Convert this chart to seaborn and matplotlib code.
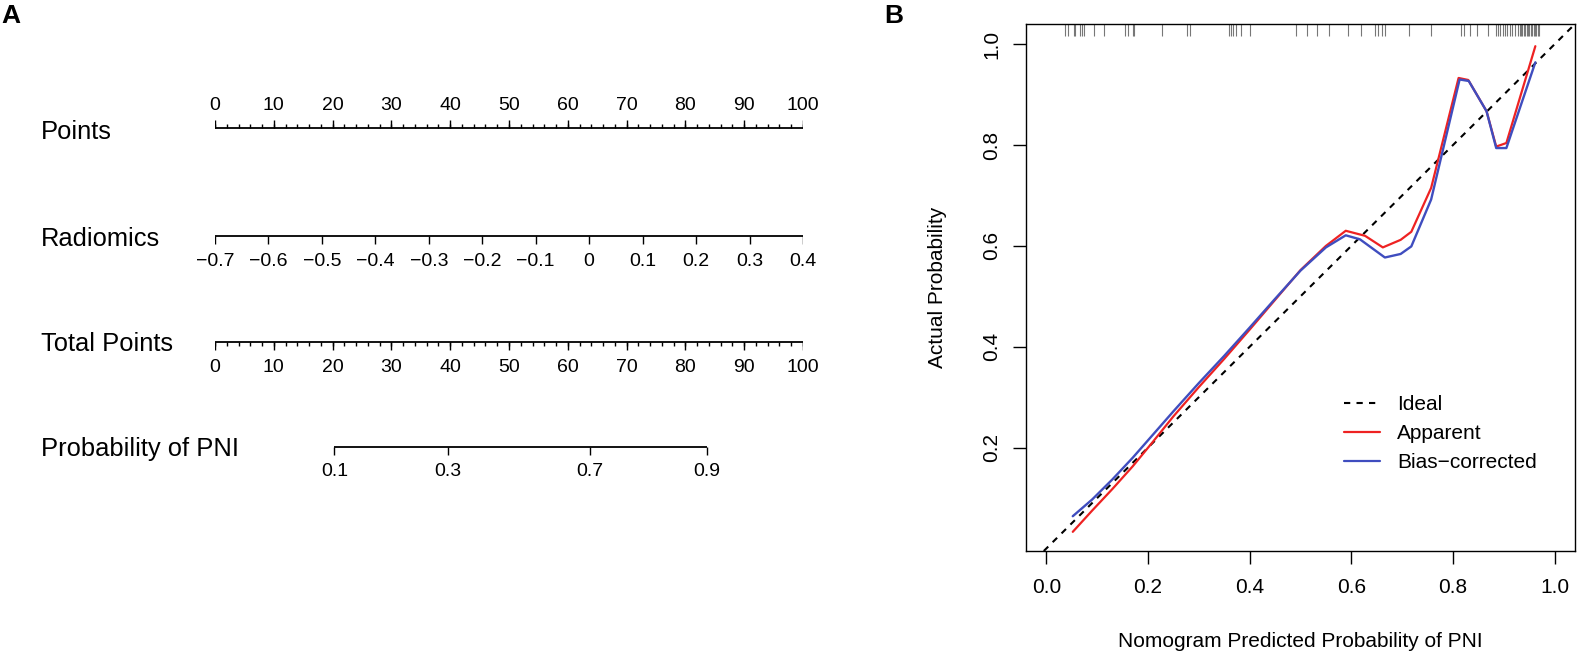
import numpy as np
import pandas as pd
import matplotlib
matplotlib.use('Agg')
import matplotlib.pyplot as plt
from matplotlib.lines import Line2D
import seaborn as sns

# ---------------- panel A: nomogram scales ----------------
points_ticks = [0, 10, 20, 30, 40, 50, 60, 70, 80, 90, 100]
points_minor = list(range(0, 101, 2))
radiomics_ticks = [-0.7, -0.6, -0.5, -0.4, -0.3, -0.2, -0.1, 0.0, 0.1, 0.2, 0.3, 0.4]
radiomics_labels = ['\u22120.7', '\u22120.6', '\u22120.5', '\u22120.4', '\u22120.3', '\u22120.2',
                    '\u22120.1', '0', '0.1', '0.2', '0.3', '0.4']
radiomics_range = [-0.7, 0.4]          # spans 0..100 points
total_ticks = [0, 10, 20, 30, 40, 50, 60, 70, 80, 90, 100]
total_minor = list(range(0, 101, 2))
prob_ticks = ['0.1', '0.3', '0.7', '0.9']
prob_points = [20.3, 39.6, 63.8, 83.6]  # total points at each probability

# ---------------- panel B: calibration curve ----------------
apparent_x = [0.052, 0.090, 0.130, 0.170, 0.210, 0.250, 0.300, 0.350, 0.400, 0.450, 0.500,
              0.550, 0.589, 0.627, 0.662, 0.697, 0.718, 0.757, 0.811, 0.830, 0.866, 0.885,
              0.905, 0.962]
apparent_y = [0.033, 0.075, 0.118, 0.163, 0.212, 0.262, 0.320, 0.376, 0.434, 0.493, 0.552,
              0.600, 0.630, 0.620, 0.597, 0.612, 0.628, 0.715, 0.933, 0.929, 0.867, 0.797,
              0.804, 0.996]
corrected_x = [0.052, 0.090, 0.130, 0.170, 0.210, 0.250, 0.300, 0.350, 0.400, 0.450, 0.500,
               0.550, 0.589, 0.617, 0.666, 0.697, 0.718, 0.757, 0.813, 0.831, 0.866, 0.885,
               0.905, 0.962]
corrected_y = [0.064, 0.097, 0.137, 0.180, 0.226, 0.272, 0.328, 0.382, 0.438, 0.495, 0.551,
               0.597, 0.621, 0.613, 0.577, 0.584, 0.599, 0.692, 0.930, 0.927, 0.867, 0.794,
               0.794, 0.964]
rug_x = [0.037, 0.042, 0.055, 0.057, 0.067, 0.070, 0.074, 0.093, 0.114, 0.154, 0.160, 0.170,
         0.172, 0.228, 0.277, 0.282, 0.359, 0.363, 0.368, 0.374, 0.383, 0.401, 0.492, 0.512,
         0.533, 0.556, 0.594, 0.620, 0.647, 0.652, 0.661, 0.666, 0.713, 0.757, 0.815, 0.821,
         0.834, 0.847, 0.869, 0.884, 0.889, 0.893, 0.898, 0.903, 0.907, 0.912, 0.917, 0.922,
         0.928, 0.931, 0.934, 0.936, 0.939, 0.942, 0.945, 0.948, 0.950, 0.953, 0.956, 0.959,
         0.962, 0.964, 0.967, 0.970]

RED = '#EE2222'
BLUE = '#3F4DBF'

sns.set_style('white', {'axes.edgecolor': 'black', 'text.color': 'black',
                        'xtick.color': 'black', 'ytick.color': 'black',
                        'axes.labelcolor': 'black'})
plt.rcParams['font.family'] = ['Liberation Sans', 'DejaVu Sans']

W, H = 1577, 653
fig = plt.figure(figsize=(W / 100, H / 100), dpi=100)


def fy(py):
    return 1 - py / H


# ---------------- panel A ----------------
x0, x1 = 215, 803
ax_a = fig.add_axes([x0 / W, 0, (x1 - x0) / W, 1])
ax_a.set_xlim(0, 100)
ax_a.set_ylim(H, 0)
ax_a.axis('off')

LW = 1.3
TICK_FS = 14


def draw_scale(y, pos, labels, up=False, minor=None, major_len=8, minor_len=4, lab_off=25):
    sgn = -1 if up else 1
    ax_a.hlines(y, min(pos), max(pos), color='black', lw=LW)
    if minor is not None:
        ax_a.vlines(minor, y, y + sgn * minor_len, color='black', lw=1.0)
    ax_a.vlines(pos, y, y + sgn * major_len, color='black', lw=1.0)
    for p, lab in zip(pos, labels):
        ax_a.text(p, y + sgn * lab_off, lab, ha='center', va='center', fontsize=TICK_FS)


# Points
draw_scale(128, points_ticks, [str(t) for t in points_ticks], up=True, minor=points_minor,
           lab_off=22)
# Radiomics
rad_pos = [(r - radiomics_range[0]) / (radiomics_range[1] - radiomics_range[0]) * 100
           for r in radiomics_ticks]
draw_scale(236, rad_pos, radiomics_labels)
# Total Points
draw_scale(342, total_ticks, [str(t) for t in total_ticks], minor=total_minor)
# Probability
draw_scale(447, prob_points, prob_ticks)

ROW_FS = 18.4
for name, base in [('Points', 139), ('Radiomics', 246), ('Total Points', 351),
                   ('Probability of PNI', 456)]:
    fig.text(41 / W, fy(base), name, fontsize=ROW_FS, ha='left', va='baseline')

fig.text(1 / W, fy(23), 'A', fontsize=19, fontweight='bold', ha='left', va='baseline')
fig.text(884 / W, fy(23), 'B', fontsize=19, fontweight='bold', ha='left', va='baseline')

# ---------------- panel B ----------------
ax_b = fig.add_axes([1026 / W, fy(551), 549 / W, 527 / H])
ax_b.axline((0, 0), slope=1, color='black', ls=(0, (3, 3)), lw=1.5)
df_app = pd.DataFrame({'x': apparent_x, 'y': apparent_y})
df_cor = pd.DataFrame({'x': corrected_x, 'y': corrected_y})
sns.lineplot(data=df_app, x='x', y='y', color=RED, lw=1.6, ax=ax_b,
             estimator=None, sort=False)
sns.lineplot(data=df_cor, x='x', y='y', color=BLUE, lw=1.7, ax=ax_b,
             estimator=None, sort=False)
ax_b.vlines(rug_x, 1 - 0.022, 1, transform=ax_b.get_xaxis_transform(),
            color='#777777', lw=0.8)

ax_b.set_xlim(-0.04, 1.04)
ax_b.set_ylim(-0.005, 1.04)
xt = [0.0, 0.2, 0.4, 0.6, 0.8, 1.0]
yt = [0.2, 0.4, 0.6, 0.8, 1.0]
ax_b.set_xticks(xt)
ax_b.set_xticklabels([f'{v:.1f}' for v in xt])
ax_b.set_yticks(yt)
ax_b.set_yticklabels([f'{v:.1f}' for v in yt])
ax_b.tick_params(axis='both', length=9.6, width=1.0, direction='out', labelsize=15,
                 bottom=True, left=True)
ax_b.tick_params(axis='x', pad=10)
ax_b.tick_params(axis='y', pad=8, labelrotation=90)
for lab in ax_b.get_yticklabels():
    lab.set_va('center')
for sp in ax_b.spines.values():
    sp.set_visible(True)
    sp.set_linewidth(1.0)
    sp.set_color('black')

ax_b.set_xlabel('Nomogram Predicted Probability of PNI', fontsize=15)
ax_b.xaxis.set_label_coords(0.5, (551 - 632) / 527)
ax_b.set_ylabel('Actual Probability', fontsize=15)
ax_b.yaxis.set_label_coords((947 - 1026) / 549, 0.5)

handles = [Line2D([], [], color='black', ls=(0, (3, 3)), lw=1.5),
           Line2D([], [], color=RED, lw=1.6),
           Line2D([], [], color=BLUE, lw=1.6)]
ax_b.legend(handles, ['Ideal', 'Apparent', 'Bias\u2212corrected'], loc='upper left',
            bbox_to_anchor=(1344 / W, fy(395)), bbox_transform=fig.transFigure,
            frameon=False, fontsize=15, handlelength=1.73, handletextpad=0.82,
            labelspacing=0.49, borderpad=0, borderaxespad=0)

fig.savefig('out.png', dpi=100)
